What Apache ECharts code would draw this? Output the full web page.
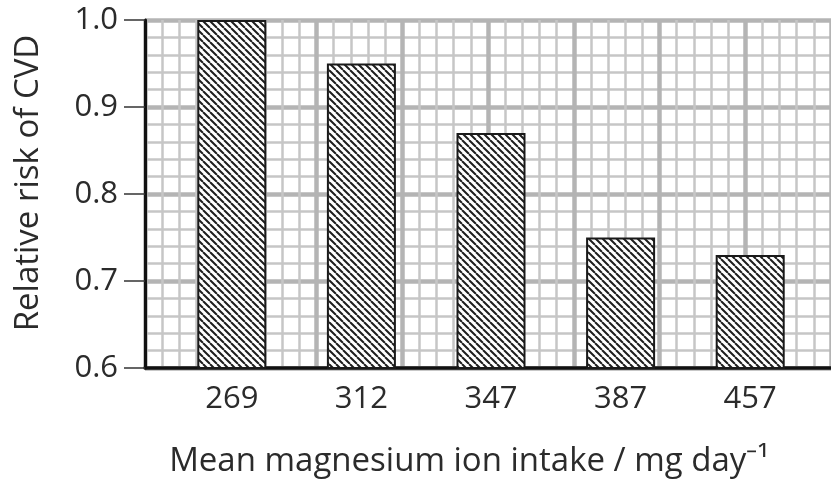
<!DOCTYPE html>
<html>
<head>
<meta charset="utf-8">
<script src="https://cdn.jsdelivr.net/npm/echarts@6/dist/echarts.min.js"></script>
<style>
html,body{margin:0;padding:0;background:#fff;}
#chart{width:831px;height:487px;}
</style>
</head>
<body>
<div id="chart"></div>
<script>
const categories = ['269', '312', '347', '387', '457'];
const riskValues = [1.0, 0.95, 0.87, 0.75, 0.73];
const yTicks = [0.6, 0.7, 0.8, 0.9, 1.0];
const yLabels = ['0.6', '0.7', '0.8', '0.9', '1.0'];

function hatch() {
  const s = 7;
  const c = document.createElement('canvas');
  c.width = s; c.height = s;
  const g = c.getContext('2d');
  g.fillStyle = '#ffffff';
  g.fillRect(0, 0, s, s);
  g.strokeStyle = '#1e1e1e';
  g.lineWidth = 2;
  g.beginPath();
  for (const o of [-s, 0, s]) { g.moveTo(o, 0); g.lineTo(o + s, s); }
  g.stroke();
  return c;
}

const FONT = 'Open Sans';
const TXT = '#2b2b2b';
const LBL = 31;
const NAME = 33;
const chart = echarts.init(document.getElementById('chart'), null, {renderer: 'canvas'});
chart.setOption({
  animation: false,
  backgroundColor: '#ffffff',
  grid: [
    {left: 145, top: 20, width: 696, height: 348},
    {left: 167, top: 20, width: 648, height: 348}
  ],
  xAxis: [
    {
      type: 'value', gridIndex: 0, min: 0, max: 40, interval: 5,
      axisLine: {show: true, onZero: false, lineStyle: {color: '#111', width: 3.5}},
      axisTick: {show: false}, axisLabel: {show: false},
      splitLine: {show: true, lineStyle: {color: '#b4b4b4', width: 4.5}},
      minorTick: {show: false, splitNumber: 5},
      minorSplitLine: {show: true, lineStyle: {color: '#c6c6c6', width: 2.5}}
    },
    {
      type: 'category', gridIndex: 1, data: categories, boundaryGap: true,
      axisLine: {show: false}, axisTick: {show: false},
      axisLabel: {margin: 16, fontSize: LBL, fontFamily: FONT, color: TXT},
      name: 'Mean magnesium ion intake / mg day\u207B\u00B9',
      nameLocation: 'middle', nameGap: 77,
      nameTextStyle: {fontSize: NAME, fontFamily: FONT, color: TXT, padding: [0, 44, 0, 0]}
    }
  ],
  yAxis: [
    {
      type: 'value', gridIndex: 0, min: yTicks[0], max: yTicks[yTicks.length - 1], interval: 0.1,
      axisLine: {show: true, lineStyle: {color: '#111', width: 3}},
      axisTick: {show: true, length: 21, lineStyle: {color: '#333', width: 1.5}},
      axisLabel: {margin: 27, fontSize: LBL, fontFamily: FONT, color: TXT,
        formatter: v => { const i = yTicks.findIndex(t => Math.abs(t - v) < 1e-6); return i >= 0 ? yLabels[i] : ''; }},
      splitLine: {show: true, lineStyle: {color: '#b4b4b4', width: 4.5}},
      minorTick: {show: false, splitNumber: 5},
      minorSplitLine: {show: true, lineStyle: {color: '#c6c6c6', width: 2.5}},
      name: 'Relative risk of CVD', nameLocation: 'middle', nameGap: 100, nameRotate: 90,
      nameTextStyle: {fontSize: NAME, fontFamily: FONT, color: TXT, padding: [0, 0, 0, 22]}
    },
    {
      type: 'value', gridIndex: 1, min: 0.6, max: 1.0, show: false
    }
  ],
  series: [{
    type: 'bar', xAxisIndex: 1, yAxisIndex: 1, data: riskValues, barWidth: 69,
    z: 5,
    itemStyle: {color: {image: hatch(), repeat: 'repeat'}, borderColor: '#1a1a1a', borderWidth: 2}
  }]
});
</script>
</body>
</html>
